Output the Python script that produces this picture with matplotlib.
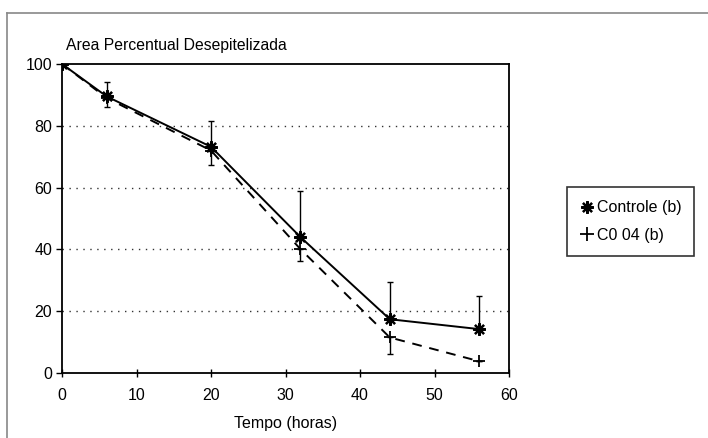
import matplotlib
matplotlib.use("Agg")
import matplotlib.pyplot as plt
from matplotlib.lines import Line2D

plt.rcParams['font.family'] = ['Liberation Sans', 'DejaVu Sans']

hours = [0, 6, 20, 32, 44, 56]
controle = [100, 89.5, 73.2, 44.0, 17.4, 14.2]
controle_err_up = [0, 4.6, 8.4, 15.0, 11.9, 10.7]
c004 = [100, 89.0, 72.0, 40.1, 11.5, 3.8]
c004_err_down = [0, 3.0, 4.8, 3.9, 5.5, 0]

title = "Area Percentual Desepitelizada"
xlabel = "Tempo (horas)"
xticks = [0, 10, 20, 30, 40, 50, 60]
yticks = [0, 20, 40, 60, 80, 100]
labels = ["Controle (b)", "C0 04 (b)"]

fig = plt.figure(figsize=(7.08, 4.38), dpi=100)
ax = fig.add_axes([62/708, 1-373/438, (509-62)/708, (373-64)/438])

star = (8, 2, 0)
ax.errorbar(hours, controle, yerr=[[0]*len(hours), controle_err_up],
            fmt='none', ecolor='black', elinewidth=1.0, capsize=2.5, capthick=1.0)
ax.errorbar(hours, c004, yerr=[c004_err_down, [0]*len(hours)],
            fmt='none', ecolor='black', elinewidth=1.0, capsize=2.5, capthick=1.0)
ax.plot(hours, c004, color='black', linestyle=(0, (5, 4)), linewidth=1.4,
        marker='+', markersize=9, markeredgewidth=1.3)
ax.plot(hours, controle, color='black', linestyle='-', linewidth=1.4,
        marker=star, markersize=9, markeredgewidth=1.6)

ax.set_xlim(0, 60)
ax.set_ylim(0, 100)
ax.set_xticks(xticks)
ax.set_yticks(yticks)
ax.tick_params(axis='both', labelsize=11.5, colors='black', width=1.0)
ax.tick_params(axis='x', direction='inout', length=6, pad=8)
ax.tick_params(axis='y', direction='out', length=4, pad=3)
for s in ax.spines.values():
    s.set_linewidth(1.3)
    s.set_color('black')
for v in [20, 40, 60, 80]:
    ax.axhline(v, color='#333333', linestyle=(0, (1, 4)), linewidth=1.0, zorder=0)

ax.set_xlabel(xlabel, fontsize=11.5, labelpad=9)
ax.text(0.008, 1.035, title, transform=ax.transAxes, fontsize=11.3, ha='left', va='bottom')

handles = [Line2D([], [], color='black', linestyle='none', marker=star, markersize=9, markeredgewidth=1.6),
           Line2D([], [], color='black', linestyle='none', marker='+', markersize=10, markeredgewidth=1.3)]
leg = fig.legend(handles, labels, loc='center',
                 bbox_to_anchor=((565+696)/2/708, 1-221.5/438),
                 frameon=True, fancybox=False, edgecolor='black', fontsize=11.5,
                 handlelength=0.9, handletextpad=0.2, borderpad=0.8, labelspacing=0.8)
leg.get_frame().set_linewidth(1.2)

fig.add_artist(Line2D([7/708, 7/708], [0, 1-13/438], transform=fig.transFigure,
                      color='#888888', linewidth=1.2))
fig.add_artist(Line2D([7/708, 1], [1-13/438, 1-13/438], transform=fig.transFigure,
                      color='#888888', linewidth=1.2))

fig.savefig("out.png", dpi=100)
